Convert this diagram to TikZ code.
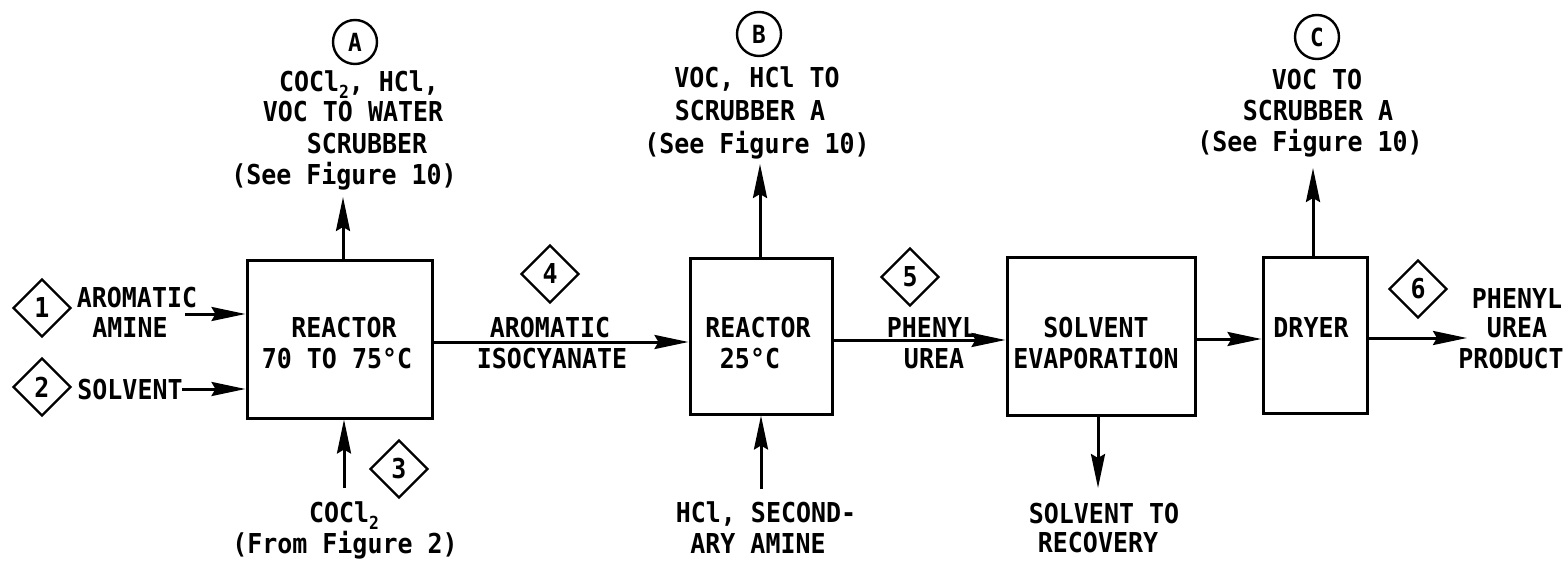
\documentclass[tikz,border=0pt]{standalone}
\usepackage{fontspec}
\newfontfamily\mono{DejaVu Sans Mono}[FakeStretch=0.91]
\usetikzlibrary{shapes.geometric,arrows.meta}
\newcommand\subtwo{\raisebox{-3.5pt}{\fontsize{9}{9}\selectfont 2}}
\begin{document}
\begin{tikzpicture}[x=0.5pt,y=-0.5pt,
  lbl/.style={anchor=base,inner sep=0,font=\mono\bfseries\fontsize{13.7}{15}\selectfont},
  box/.style={draw,line width=1.5pt,inner sep=0},
  dia/.style={draw,diamond,line width=1.2pt,inner sep=0,minimum width=29pt,minimum height=29pt,font=\mono\bfseries\fontsize{13.7}{15}\selectfont},
  circ/.style={draw,circle,line width=1.2pt,inner sep=0,minimum size=22pt,font=\mono\bfseries\fontsize{12.5}{14}\selectfont},
  arr/.style={line width=1.5pt,-{Stealth[length=17pt,width=7pt,inset=2pt]}}]
\fill[white] (0,0) rectangle (1568,561);
\useasboundingbox (0,0) rectangle (1568,561);

% process boxes
\node[box,minimum width=92.5pt,minimum height=78.5pt] (r1) at (339.5,339.5) {};
\node[box,minimum width=71pt,minimum height=77.5pt] (r2) at (761,336.5) {};
\node[box,minimum width=94pt,minimum height=78.5pt] (se) at (1101,336.5) {};
\node[box,minimum width=52pt,minimum height=77.5pt] (dr) at (1315,335.5) {};

% box texts
\node[lbl] (r1a) at (344,337) {REACTOR};
\node[lbl] (r1b) at (337,368) {70 TO 75°C};
\node[lbl] (r2a) at (758,337) {REACTOR};
\node[lbl] (r2b) at (750,368) {25°C};
\node[lbl] (sea) at (1096,337) {SOLVENT};
\node[lbl] (seb) at (1096,368) {EVAPORATION};
\node[lbl] (dra) at (1311,337) {DRYER};

% stream diamonds
\node[dia] (d1) at (42,308) {1};
\node[dia] (d2) at (42,387) {2};
\node[dia] (d3) at (399,469) {3};
\node[dia] (d4) at (550,274) {4};
\node[dia] (d5) at (910,277) {5};
\node[dia] (d6) at (1418,289) {6};

% vent circles
\node[circ] (cA) at (355,42) {A};
\node[circ] (cB) at (759,34) {B};
\node[circ] (cC) at (1317,37) {C};

% vent labels
\node[lbl] (a1) at (359,92) {COCl\subtwo, HCl,};
\node[lbl] (a2) at (353,122) {VOC TO WATER};
\node[lbl] (a3) at (367,154) {SCRUBBER};
\node[lbl] (a4) at (344,185) {(See Figure 10)};
\node[lbl] (b1) at (757,88) {VOC, HCl TO};
\node[lbl] (b2) at (750,121) {SCRUBBER A};
\node[lbl] (b3) at (757,154) {(See Figure 10)};
\node[lbl] (c1) at (1317,90) {VOC TO};
\node[lbl] (c2) at (1318,121) {SCRUBBER A};
\node[lbl] (c3) at (1310,152) {(See Figure 10)};

% stream labels
\node[lbl] (l1a) at (137,307) {AROMATIC};
\node[lbl] (l1b) at (130,337) {AMINE};
\node[lbl] (l2) at (130,399) {SOLVENT};
\node[lbl] (l3a) at (344,522) {COCl\subtwo};
\node[lbl] (l3b) at (345,553) {(From Figure 2)};
\node[lbl] (l4a) at (550,337) {AROMATIC};
\node[lbl] (l4b) at (552,368) {ISOCYANATE};
\node[lbl] (l5a) at (932,337) {PHENYL};
\node[lbl] (l5b) at (934,368) {UREA};
\node[lbl] (l6a) at (1517,308) {PHENYL};
\node[lbl] (l6b) at (1517,337) {UREA};
\node[lbl] (l6c) at (1511,368) {PRODUCT};
\node[lbl] (h1) at (766,522) {HCl, SECOND-};
\node[lbl] (h2) at (758,553) {ARY AMINE};
\node[lbl] (s1) at (1104,523) {SOLVENT TO};
\node[lbl] (s2) at (1098,552) {RECOVERY};

% connectors
\coordinate (in1) at (185,314);
\coordinate (in2) at (182,389);
\coordinate (m1) at (0,342);
\coordinate (m2) at (0,340);
\coordinate (m3) at (0,339);
\coordinate (out) at (1467,338);
\coordinate (tA) at (343,197);
\coordinate (bA) at (344,488);
\coordinate (tB) at (760,164);
\coordinate (bB) at (761,489);
\coordinate (tC) at (1313,168);
\coordinate (bS) at (1098,488);

\draw[arr] (in1) -- (in1 -| r1.west);
\draw[arr] (in2) -- (in2 -| r1.west);
\draw[arr] (m1 -| r1.east) -- (m1 -| r2.west);
\draw[arr] (m2 -| r2.east) -- (m2 -| se.west);
\draw[arr] (m3 -| se.east) -- (m3 -| dr.west);
\draw[arr] (out -| dr.east) -- (out);
\draw[arr] (tA |- r1.north) -- (tA);
\draw[arr] (bA) -- (bA |- r1.south);
\draw[arr] (tB |- r2.north) -- (tB);
\draw[arr] (bB) -- (bB |- r2.south);
\draw[arr] (tC |- dr.north) -- (tC);
\draw[arr] (bS |- se.south) -- (bS);
\end{tikzpicture}
\end{document}
